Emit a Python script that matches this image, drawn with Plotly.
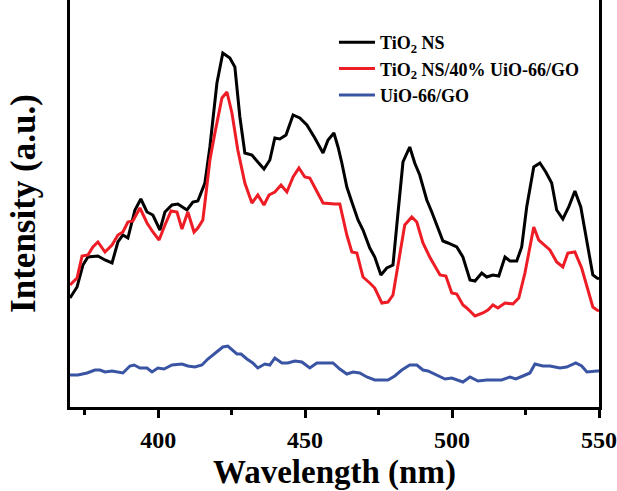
import plotly.graph_objects as go

# Wavelength (nm) and intensity (a.u.)
tio2_wl = [370.0, 372.4, 374.4, 376.1, 379.5, 381.9, 384.3, 386.3, 388.0, 389.7, 392.1, 394.1, 396.2, 398.2,
           400.6, 402.3, 404.7, 406.7, 409.8, 411.8, 413.5, 415.9, 417.6, 420.0, 422.0, 424.4, 426.1, 427.8,
           429.5, 431.9, 433.9, 436.0, 438.0, 439.7, 441.4, 443.5, 445.9, 448.2, 450.6, 453.3, 456.1, 457.8,
           459.8, 461.2, 462.5, 464.2, 465.9, 468.0, 469.7, 472.0, 473.7, 475.8, 477.8, 479.9, 481.6, 483.3,
           485.6, 487.3, 489.0, 491.4, 493.1, 495.2, 496.9, 498.6, 501.6, 503.7, 506.1, 507.8, 510.1, 511.8,
           513.9, 515.9, 518.0, 519.7, 522.0, 523.7, 525.4, 527.8, 529.9, 531.9, 533.9, 535.6, 537.7, 539.7,
           541.8, 543.8, 545.9, 547.9, 549.3, 550.0]
tio2_int = [109, 120, 142, 150, 151, 147, 144, 165, 172, 169, 197, 208, 195, 192,
            177, 195, 202, 203, 197, 205, 206, 224, 260, 324, 354, 349, 340, 290,
            254, 252, 245, 238, 247, 269, 268, 272, 292, 289, 282, 269, 254, 267,
            274, 260, 244, 220, 205, 187, 177, 159, 150, 132, 139, 142, 194, 245,
            260, 244, 232, 207, 195, 180, 166, 164, 160, 150, 127, 126, 134, 130,
            132, 131, 150, 146, 146, 160, 200, 240, 244, 235, 224, 197, 188, 200,
            216, 200, 167, 132, 129, 128]

comp_wl = [370.0, 372.4, 374.1, 376.1, 377.8, 379.5, 381.9, 384.3, 386.3, 388.0, 389.7, 391.4, 393.8, 396.2,
           398.2, 400.3, 402.3, 404.4, 406.4, 408.1, 410.1, 412.2, 413.5, 415.2, 415.9, 417.6, 419.3, 421.7,
           423.4, 425.1, 427.1, 429.5, 431.9, 433.9, 436.0, 437.7, 439.7, 441.8, 443.8, 445.9, 447.9, 449.9,
           451.6, 454.0, 456.1, 460.1, 461.8, 464.2, 465.9, 467.6, 469.7, 472.0, 473.7, 476.1, 478.2, 479.9,
           482.2, 483.9, 486.3, 488.0, 490.1, 492.4, 495.9, 497.9, 499.9, 501.6, 503.7, 505.0, 507.8, 510.5,
           512.2, 513.9, 515.6, 518.0, 520.7, 522.7, 524.8, 526.5, 527.8, 529.5, 531.6, 533.3, 535.6, 537.7,
           539.4, 541.8, 544.1, 546.2, 547.9, 549.3, 550.0]
comp_int = [122, 129, 151, 152, 160, 165, 155, 162, 172, 175, 185, 186, 199, 184,
            175, 167, 182, 196, 195, 178, 195, 175, 179, 187, 204, 247, 274, 309,
            315, 294, 257, 224, 204, 212, 202, 212, 215, 222, 215, 230, 239, 230,
            229, 215, 204, 203, 203, 172, 155, 154, 130, 124, 119, 104, 105, 112,
            150, 182, 190, 185, 164, 150, 132, 131, 114, 113, 102, 99, 91, 94,
            97, 102, 99, 104, 103, 109, 134, 160, 180, 167, 162, 157, 145, 140,
            154, 155, 139, 117, 100, 97, 96]

uio_wl = [370.0, 372.7, 375.8, 378.5, 380.2, 381.9, 384.3, 386.0, 388.0, 390.4, 391.8, 393.8, 396.2, 397.9,
          399.9, 402.0, 404.7, 408.1, 410.1, 412.5, 414.9, 416.9, 420.0, 422.0, 423.7, 425.1, 426.8, 428.2,
          430.2, 432.2, 433.9, 436.3, 438.0, 439.7, 442.1, 444.1, 446.5, 448.9, 451.6, 454.0, 456.7, 459.5,
          461.8, 464.2, 466.3, 468.6, 471.0, 473.7, 478.2, 480.5, 482.9, 485.6, 488.0, 490.1, 491.8, 494.8,
          497.6, 499.9, 501.6, 503.7, 506.1, 508.8, 511.8, 516.9, 519.7, 521.7, 524.1, 526.5, 528.2, 530.9,
          533.3, 536.7, 539.0, 542.1, 544.1, 545.9, 549.3, 550.0]
uio_int = [32, 32, 34, 37, 37, 35, 36, 35, 34, 41, 42, 39, 39, 35,
           39, 38, 42, 43, 41, 40, 42, 48, 55, 60, 61, 57, 53, 53,
           48, 44, 39, 43, 42, 49, 44, 44, 46, 45, 39, 44, 44, 44,
           38, 33, 35, 34, 30, 27, 27, 31, 37, 42, 42, 37, 36, 32,
           28, 29, 27, 25, 30, 26, 27, 27, 30, 28, 31, 34, 43, 41,
           41, 39, 40, 44, 41, 35, 36, 36]

series_names = ["TiO<sub>2</sub> NS", "TiO<sub>2</sub> NS/40% UiO-66/GO", "UiO-66/GO"]
x_ticks = [400, 450, 500, 550]
x_minor_ticks = [375, 425, 475, 525]

FONT = "Liberation Serif"

fig = go.Figure()
fig.add_trace(go.Scatter(x=tio2_wl, y=tio2_int, mode="lines", name=series_names[0],
                         line=dict(color="#000000", width=3)))
fig.add_trace(go.Scatter(x=comp_wl, y=comp_int, mode="lines", name=series_names[1],
                         line=dict(color="#ee1c25", width=3)))
fig.add_trace(go.Scatter(x=uio_wl, y=uio_int, mode="lines", name=series_names[2],
                         line=dict(color="#3a54a4", width=3)))

fig.update_layout(
    width=617, height=491,
    margin=dict(l=70, r=18, t=0, b=84),
    paper_bgcolor="white", plot_bgcolor="white",
    font=dict(family=FONT, color="black", weight="bold"),
    showlegend=True,
    legend=dict(x=0.499, y=0.941, xanchor="left", yanchor="top",
                font=dict(family=FONT, size=18, color="black", weight="bold"),
                bgcolor="rgba(0,0,0,0)", itemwidth=36, tracegroupgap=0),
    xaxis=dict(range=[370, 550], tickvals=x_ticks, ticks="outside", ticklen=8, tickwidth=2.5,
               tickcolor="black", showline=True, linewidth=2.5, linecolor="black",
               showgrid=False, zeroline=False, mirror=False, automargin=False,
               tickfont=dict(family=FONT, size=24, color="black", weight="bold"),
               ticklabelstandoff=1,
               minor=dict(tickvals=x_minor_ticks, ticks="outside", ticklen=5,
                          tickwidth=2.5, tickcolor="black", showgrid=False),
               title=dict(text="Wavelength (nm)", standoff=25,
                          font=dict(family=FONT, size=33, color="black", weight="bold"))),
    yaxis=dict(range=[0, 407], showticklabels=False, ticks="", showline=True, linewidth=2.5,
               linecolor="black", mirror=True, showgrid=False, zeroline=False, automargin=False,
               title=dict(text="Intensity (a.u.)", standoff=22,
                          font=dict(family=FONT, size=35, color="black", weight="bold"))),
)

fig.write_html("out.html", config={"displayModeBar": False},
               post_script="document.body.style.margin='0';document.body.style.overflow='hidden';")
